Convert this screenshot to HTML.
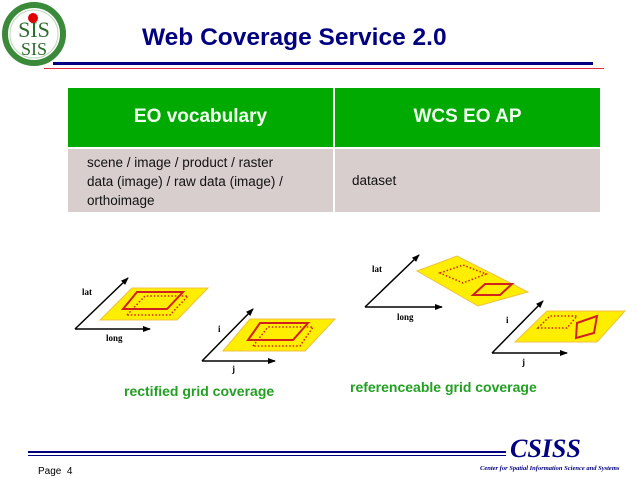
<!DOCTYPE html>
<html><head><meta charset="utf-8"><style>
body{margin:0;width:638px;height:479px;background:#fff;position:relative;overflow:hidden;font-family:"Liberation Sans",sans-serif}
.a{position:absolute;white-space:nowrap}
</style></head><body>
<svg class="a" style="left:0;top:0" width="638" height="479">
<defs><marker id="ar" markerWidth="8" markerHeight="8" refX="7" refY="4" orient="auto" markerUnits="userSpaceOnUse"><path d="M0,1 L8,4 L0,7 Z" fill="#000"/></marker></defs>
<circle cx="34" cy="34" r="29" fill="#fff" stroke="#3a8a3a" stroke-width="6"/>
<circle cx="34" cy="34" r="24" fill="none" stroke="#b8d8b8" stroke-width="1"/>
<text x="34" y="37" font-family="Liberation Serif" font-size="22" fill="#2a6a2a" text-anchor="middle">SIS</text>
<text x="34" y="55" font-family="Liberation Serif" font-size="18" fill="#2a6a2a" text-anchor="middle">SIS</text>
<circle cx="33" cy="18" r="5" fill="#e00000"/>
<rect x="53" y="62" width="540" height="3" fill="#000080"/>
<rect x="44" y="68" width="560" height="1" fill="#e03040"/>
<rect x="68" y="88" width="265" height="59" fill="#00aa00"/>
<rect x="335" y="88" width="265" height="59" fill="#00aa00"/>
<rect x="68" y="149" width="265" height="63" fill="#d8cece"/>
<rect x="335" y="149" width="265" height="63" fill="#d8cece"/>
<!-- left diagram 1 -->
<polygon points="100,320 132,288 208,288 177,320" fill="#ffee00" stroke="#f0c040"/>
<polygon points="127,315 145,296 188,296 170,315" fill="none" stroke="#d02020" stroke-width="1.5" stroke-dasharray="1.5,2"/>
<polygon points="123,309 137,292 183,292 167,309" fill="none" stroke="#d02020" stroke-width="2"/>
<line x1="75" y1="329" x2="128" y2="278" stroke="#000" stroke-width="1.5" marker-end="url(#ar)"/>
<line x1="75" y1="329" x2="150" y2="329" stroke="#000" stroke-width="1.5" marker-end="url(#ar)"/>
<polygon points="223,351 250,319 335,319 305,351" fill="#ffee00" stroke="#f0c040"/>
<polygon points="253,346 268,327 313,327 300,346" fill="none" stroke="#d02020" stroke-width="1.5" stroke-dasharray="1.5,2"/>
<polygon points="248,340 260,323 308,323 293,340" fill="none" stroke="#d02020" stroke-width="2"/>
<line x1="202" y1="361" x2="253" y2="309" stroke="#000" stroke-width="1.5" marker-end="url(#ar)"/>
<line x1="202" y1="361" x2="275" y2="361" stroke="#000" stroke-width="1.5" marker-end="url(#ar)"/>
<!-- right diagram -->
<polygon points="417,271 457,256 528,292 478,306" fill="#ffee00" stroke="#f0c040"/>
<polygon points="440,273 463,265 486,274 463,283" fill="none" stroke="#d02020" stroke-width="1.5" stroke-dasharray="1.5,2"/>
<polygon points="473,295 485,284 512,284 500,295" fill="none" stroke="#d02020" stroke-width="2"/>
<line x1="365" y1="307" x2="419" y2="255" stroke="#000" stroke-width="1.5" marker-end="url(#ar)"/>
<line x1="365" y1="307" x2="442" y2="307" stroke="#000" stroke-width="1.5" marker-end="url(#ar)"/>
<polygon points="515,342 547,311 625,311 597,342" fill="#ffee00" stroke="#f0c040"/>
<polygon points="538,328 550,316 577,316 567,328" fill="none" stroke="#d02020" stroke-width="1.5" stroke-dasharray="1.5,2"/>
<polygon points="577,323 597,316 594,333 576,338" fill="none" stroke="#d02020" stroke-width="2"/>
<line x1="492" y1="353" x2="543" y2="301" stroke="#000" stroke-width="1.5" marker-end="url(#ar)"/>
<line x1="492" y1="353" x2="567" y2="353" stroke="#000" stroke-width="1.5" marker-end="url(#ar)"/>
<g font-family="Liberation Serif" font-weight="bold" font-size="9" fill="#000">
<text x="82" y="295">lat</text><text x="106" y="341">long</text>
<text x="218" y="332">i</text><text x="232" y="372">j</text>
<text x="372" y="272">lat</text><text x="397" y="320">long</text>
<text x="506" y="323">i</text><text x="522" y="365">j</text>
</g>
<rect x="28" y="451" width="478" height="2" fill="#000080"/>
<rect x="28" y="455" width="478" height="1" fill="#000080"/>
</svg>
<div class="a" style="left:142px;top:24px;font-size:24.5px;font-weight:bold;color:#000080">Web Coverage Service 2.0</div>
<div class="a" style="left:68px;top:106px;width:265px;text-align:center;font-size:19px;font-weight:bold;color:#f0fff0">EO vocabulary</div>
<div class="a" style="left:335px;top:106px;width:265px;text-align:center;font-size:19px;font-weight:bold;color:#f0fff0">WCS EO AP</div>
<div class="a" style="left:87px;top:153px;font-size:13.5px;line-height:19px;color:#111">scene / image / product / raster<br>data (image) / raw data (image) /<br>orthoimage</div>
<div class="a" style="left:352px;top:173px;font-size:13.5px;color:#111">dataset</div>
<div class="a" style="left:124px;top:383px;font-size:14px;font-weight:bold;color:#22a022">rectified grid coverage</div>
<div class="a" style="left:350px;top:379px;font-size:14px;font-weight:bold;color:#22a022">referenceable grid coverage</div>
<div class="a" style="left:510px;top:434px;font-family:'Liberation Serif',serif;font-style:italic;font-weight:bold;font-size:26px;color:#000080">CSISS</div>
<div class="a" style="left:480px;top:465px;font-family:'Liberation Serif',serif;font-style:italic;font-weight:bold;font-size:6.5px;color:#000080">Center for Spatial Information Science and Systems</div>
<div class="a" style="left:38px;top:466px;font-size:10px;color:#000">Page&nbsp; 4</div>
</body></html>
